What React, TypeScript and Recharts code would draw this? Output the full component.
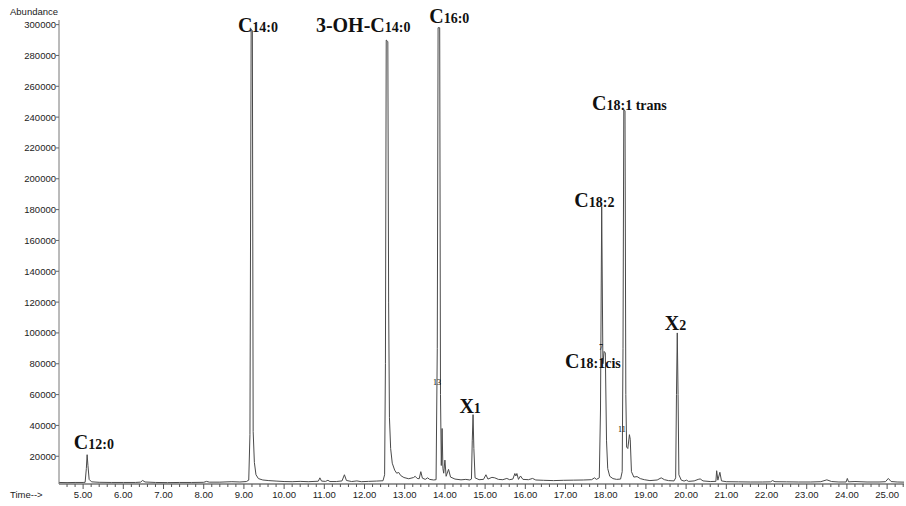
import { LineChart, Line, XAxis, YAxis, ReferenceDot } from "recharts";

// retention time (min), abundance
const earlyTrace: [number, number][] = [
  [4.4, 3000], [4.6, 2900], [4.8, 3000], [5.0, 3000], [5.05, 3100], [5.08, 12000],
  [5.1, 21000], [5.12, 14000], [5.15, 5000], [5.21, 3400], [5.4, 3100], [5.7, 3000],
  [6.0, 3000], [6.3, 3000], [6.43, 3200], [6.48, 4300], [6.54, 3300], [6.8, 3000],
  [7.1, 2900], [7.4, 3000], [7.7, 3000], [8.0, 3100], [8.07, 3700], [8.14, 3200],
  [8.4, 3200], [8.7, 3500], [8.9, 3300], [9.06, 3600], [9.12, 4500], [9.15, 34000],
  [9.18, 297000], [9.21, 296000], [9.23, 36000], [9.26, 16000], [9.3, 8000], [9.36, 5500],
  [9.47, 4600], [9.62, 4200], [9.8, 3900], [10.0, 3600], [10.2, 3500], [10.4, 3700],
  [10.6, 3500], [10.85, 3800], [10.89, 6000], [10.93, 3900], [11.03, 3700], [11.09, 4400],
  [11.14, 3600], [11.3, 3600], [11.44, 4000], [11.5, 8000], [11.55, 4300], [11.68, 3600],
  [11.81, 4000], [11.92, 3500], [12.1, 3700], [12.3, 3900], [12.46, 4100],
];

const midTrace: [number, number][] = [
  [12.5, 8000], [12.52, 80000], [12.54, 290000], [12.58, 289000], [12.6, 120000],
  [12.62, 45000], [12.65, 25000], [12.69, 15500], [12.75, 11000], [12.8, 9000],
  [12.85, 9500], [12.9, 7500], [12.98, 6200], [13.1, 5400], [13.22, 6200], [13.26, 7000],
  [13.31, 5600], [13.36, 5400], [13.4, 10000], [13.44, 5800], [13.51, 5000], [13.57, 6000],
  [13.62, 5000], [13.72, 4600], [13.78, 4800], [13.81, 90000], [13.83, 298000],
  [13.87, 298000], [13.89, 60000], [13.91, 14000], [13.93, 38000], [13.95, 12000],
  [13.97, 9000], [14.0, 17500], [14.03, 7000], [14.09, 11500], [14.14, 6500], [14.25, 5200],
  [14.4, 4700], [14.52, 5000], [14.62, 4600], [14.66, 5200], [14.68, 30000], [14.7, 47000],
  [14.72, 25000], [14.75, 6000], [14.85, 4800], [14.96, 5000], [15.02, 8000], [15.07, 5200],
  [15.17, 6300], [15.24, 6000], [15.33, 5000], [15.44, 4800], [15.54, 5600], [15.61, 4800],
  [15.69, 5200], [15.74, 8800], [15.765, 7200], [15.79, 8800], [15.83, 5000], [15.88, 7200],
  [15.94, 5000], [16.08, 4800], [16.18, 5600], [16.26, 4600], [16.45, 4400], [16.7, 4200],
  [16.95, 4400], [17.2, 4500], [17.45, 4600], [17.65, 4800], [17.72, 6000], [17.77, 5000],
];

const lateTrace: [number, number][] = [
  [17.84, 6000], [17.87, 50000], [17.9, 182000], [17.93, 80000], [17.96, 88000],
  [17.99, 87000], [18.02, 30000], [18.05, 12000], [18.1, 7000], [18.18, 5500], [18.27, 5000],
  [18.37, 5200], [18.41, 10000], [18.43, 90000], [18.45, 245000], [18.48, 244000],
  [18.5, 60000], [18.52, 26000], [18.55, 25000], [18.59, 34000], [18.61, 31000],
  [18.64, 10000], [18.7, 6500], [18.78, 6800], [18.86, 5500], [18.96, 4800], [19.1, 4200],
  [19.28, 4600], [19.38, 6000], [19.46, 4800], [19.56, 4200], [19.7, 4000], [19.74, 6000],
  [19.76, 60000], [19.78, 100000], [19.8, 60000], [19.82, 8000], [19.88, 4500], [19.95, 3900],
  [20.01, 4500], [20.06, 3700], [20.2, 4000], [20.3, 5000], [20.35, 5300], [20.42, 4000],
  [20.6, 3600], [20.74, 3700], [20.76, 10600], [20.79, 4500], [20.84, 9600], [20.88, 4000],
  [21.0, 3500], [21.3, 3400], [21.6, 3300], [21.9, 3300], [22.1, 3400], [22.15, 4200],
  [22.21, 3500], [22.5, 3400], [22.8, 3300], [23.1, 3300], [23.35, 3500], [23.5, 4700],
  [23.62, 3600], [23.8, 3300], [23.98, 3300], [24.01, 5600], [24.04, 3400], [24.2, 3600],
  [24.5, 3300], [24.8, 3300], [24.96, 3500], [25.03, 5600], [25.1, 3600], [25.25, 3300],
  [25.42, 3200],
];

const yTicks = [20000, 40000, 60000, 80000, 100000, 120000, 140000, 160000, 180000, 200000,
  220000, 240000, 260000, 280000, 300000];
const xMajor = [5, 6, 7, 8, 9, 10, 11, 12, 13, 14, 15, 16, 17, 18, 19, 20, 21, 22, 23, 24, 25];
const xTicks = Array.from({ length: 105 }, (_, i) => Math.round(46 + i * 2) / 10);

// peak names, anchored at the text's left baseline (time, abundance)
const peakLabels = [
  { main: "C", sub: "12:0", t: 4.77, v: 24700 },
  { main: "C", sub: "14:0", t: 8.85, v: 295500 },
  { main: "3-OH-C", sub: "14:0", t: 10.79, v: 295100 },
  { main: "C", sub: "16:0", t: 13.61, v: 301000 },
  { main: "X", sub: "1", t: 14.36, v: 47900 },
  { main: "C", sub: "18:2", t: 17.22, v: 181600 },
  { main: "C", sub: "18:1 trans", t: 17.66, v: 244700 },
  { main: "C", sub: "18:1cis", t: 16.99, v: 77100 },
  { main: "X", sub: "2", t: 19.47, v: 101900 },
];

const peakMarks = [
  { text: "13", t: 13.8, v: 66000 },
  { text: "7", t: 17.88, v: 89000 },
  { text: "11", t: 18.4, v: 35700 },
];

const rows = [...earlyTrace, ...midTrace, ...lateTrace].map(([t, v]) => ({ t, v }));

const sans = "'Liberation Sans', Arial, sans-serif";
const serif = "'Liberation Serif', 'Times New Roman', serif";

function XTick(props: any) {
  const { x, y, payload } = props;
  const v = payload.value as number;
  const major = xMajor.some((m) => Math.abs(m - v) < 1e-6);
  return (
    <g>
      <line x1={x} x2={x} y1={y} y2={y + (major ? 5 : 3)} stroke="#555" strokeWidth={1} />
      {major && (
        <text x={x} y={y + 14} textAnchor="middle" fontSize={9.5} fontFamily={sans} fill="#222">
          {v.toFixed(2)}
        </text>
      )}
    </g>
  );
}

function YTick(props: any) {
  const { x, y, payload } = props;
  return (
    <g>
      <line x1={x - 3} x2={x} y1={y} y2={y} stroke="#666" strokeWidth={1} />
      <text x={x - 3} y={y + 3.5} textAnchor="end" fontSize={9.5} fontFamily={sans} fill="#222">
        {payload.value}
      </text>
    </g>
  );
}

export default function App() {
  return (
    <div style={{ position: "absolute", left: 0, top: 0, width: 906, height: 506, background: "#fff" }}>
      <LineChart width={906} height={506} data={rows} margin={{ top: 20, right: 2, bottom: 0, left: 0 }}>
        <XAxis
          type="number"
          dataKey="t"
          domain={[4.4, 25.42]}
          ticks={xTicks}
          interval={0}
          allowDataOverflow
          tick={<XTick />}
          tickLine={false}
          tickSize={0}
          tickMargin={0}
          height={22}
          axisLine={{ stroke: "#333" }}
        />
        <YAxis
          type="number"
          domain={[2000, 303000]}
          ticks={yTicks}
          interval={0}
          allowDataOverflow
          tick={<YTick />}
          tickLine={false}
          tickSize={0}
          tickMargin={0}
          width={59}
          axisLine={{ stroke: "#777" }}
        />
        <Line
          dataKey="v"
          type="linear"
          stroke="#4a4a4a"
          strokeWidth={1}
          dot={false}
          isAnimationActive={false}
        />
        {peakLabels.map((p) => (
          <ReferenceDot
            key={p.main + p.sub}
            x={p.t}
            y={p.v}
            r={1}
            ifOverflow="visible"
            shape={(s: any) => {
              const trans = p.sub.endsWith(" trans");
              return (
                <text x={s.cx} y={s.cy} fontFamily={serif} fontWeight="bold" fill="#111">
                  <tspan fontSize={20}>{p.main}</tspan>
                  <tspan fontSize={14}>{trans ? p.sub.replace(" trans", "") : p.sub}</tspan>
                  {trans && <tspan fontSize={14}>{" trans"}</tspan>}
                </text>
              );
            }}
          />
        ))}
        {peakMarks.map((m) => (
          <ReferenceDot
            key={m.text}
            x={m.t}
            y={m.v}
            r={1}
            ifOverflow="visible"
            shape={(s: any) => (
              <text x={s.cx} y={s.cy} textAnchor="middle" fontSize={8} fontFamily={serif} fill="#000" stroke="none">
                {m.text}
              </text>
            )}
          />
        ))}
      </LineChart>
      <svg width={906} height={506} style={{ position: "absolute", left: 0, top: 0, pointerEvents: "none" }}>
        <text x={10} y={15} fontSize={9.5} fontFamily={sans} fill="#222">Abundance</text>
        <text x={10} y={498} fontSize={9.5} fontFamily={sans} fill="#222">{"Time-->"}</text>
      </svg>
    </div>
  );
}
